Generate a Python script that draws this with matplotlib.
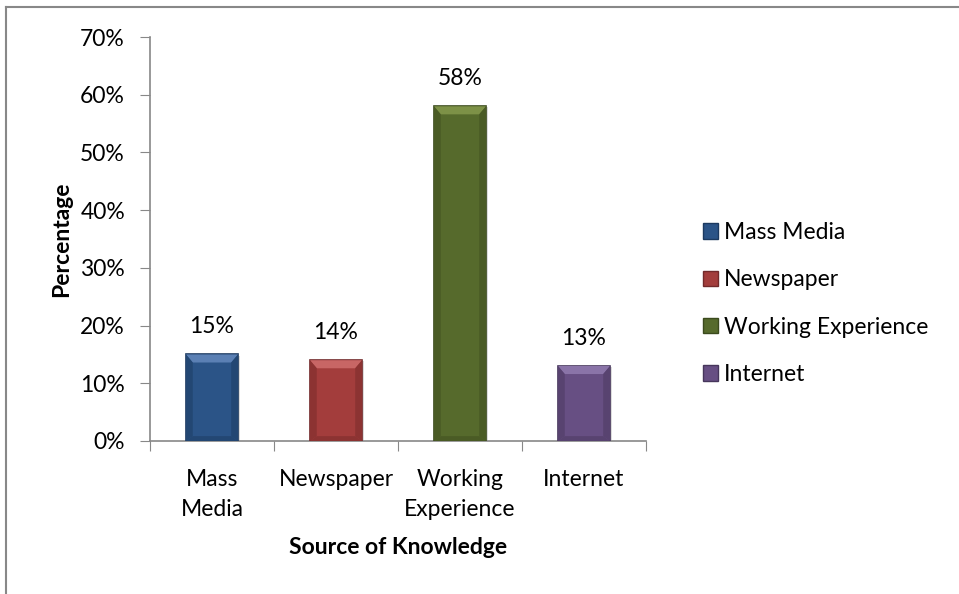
import matplotlib.pyplot as plt
from matplotlib.patches import Polygon, Rectangle
from matplotlib.lines import Line2D

categories = ["Mass\nMedia", "Newspaper", "Working\nExperience", "Internet"]
legend_names = ["Mass Media", "Newspaper", "Working Experience", "Internet"]
values = [15, 14, 58, 13]
colors = ["#2b5487", "#a33d3c", "#566a2c", "#674f83"]
edges = ["#1c3a60", "#72292a", "#3b4a1d", "#46365b"]
lights = ["#5b80b4", "#c86665", "#7d9147", "#8a74a8"]
darks = ["#234773", "#8c3332", "#4a5b25", "#584370"]

plt.rcParams['font.family'] = ['Lato', 'DejaVu Sans']
fs = 16.5

fig = plt.figure(figsize=(9.59, 5.94), dpi=100)
ax = fig.add_axes([0.1564, 0.2576, 0.5172, 0.6801])

x = list(range(len(values)))
w = 0.42
bars = ax.bar(x, values, width=w, color=colors, edgecolor=edges, linewidth=1.2, zorder=3)

# bevel look on each bar
for b, lc, dc in zip(bars, lights, darks):
    x0, y0 = b.get_x(), b.get_y()
    bw, bh = b.get_width(), b.get_height()
    x1, y1 = x0 + bw, y0 + bh
    d = 0.055
    dy = 1.4
    top = Polygon([(x0, y1), (x1, y1), (x1 - d, y1 - dy), (x0 + d, y1 - dy)],
                  closed=True, color=lc, zorder=4, lw=0)
    left = Polygon([(x0, y0), (x0, y1), (x0 + d, y1 - dy), (x0 + d, y0 + dy * 0.6)],
                   closed=True, color=dc, zorder=4, lw=0)
    right = Polygon([(x1, y0), (x1, y1), (x1 - d, y1 - dy), (x1 - d, y0 + dy * 0.6)],
                    closed=True, color=dc, zorder=4, lw=0)
    bot = Polygon([(x0, y0), (x1, y0), (x1 - d, y0 + dy * 0.6), (x0 + d, y0 + dy * 0.6)],
                  closed=True, color=dc, zorder=4, lw=0)
    for p in (top, left, right, bot):
        ax.add_patch(p)
    # soft shadow
    sh = Rectangle((x0 + 0.015, y0 - 0.2), bw, bh, color="#dcdcdc", zorder=2, lw=0)
    ax.add_patch(sh)

for xi, v in zip(x, values):
    ax.text(xi, v + 3.0, f"{v}%", ha="center", va="bottom", fontsize=fs)

ax.set_xlim(-0.5, len(values) - 0.5)
ax.set_ylim(0, 70)
ax.set_yticks(range(0, 71, 10))
ax.set_yticklabels([f"{t}%" for t in range(0, 71, 10)], fontsize=fs)
ax.set_xticks([i - 0.5 for i in range(len(values) + 1)], minor=False)
ax.set_xticklabels([])
ax.set_xticks(x, minor=True)
ax.set_xticklabels(categories, minor=True, fontsize=fs, linespacing=1.55)
ax.tick_params(axis="x", which="minor", length=0, pad=20)
ax.tick_params(axis="x", which="major", length=7, color="#888888", direction="out")
ax.tick_params(axis="y", length=7, color="#888888", pad=11)

for s in ["top", "right"]:
    ax.spines[s].set_visible(False)
ax.spines["left"].set_color("#888888")
ax.spines["bottom"].set_color("#888888")
ax.spines["left"].set_linewidth(1.2)
ax.spines["bottom"].set_linewidth(1.2)

ax.set_xlabel("Source of Knowledge", fontsize=fs, fontweight="bold", labelpad=12)
ax.set_ylabel("Percentage", fontsize=fs, fontweight="bold", labelpad=6)

handles = [Rectangle((0, 0), 1, 1, facecolor=c, edgecolor=e, lw=1) for c, e in zip(colors, edges)]
fig.legend(handles, legend_names, loc="center left", bbox_to_anchor=(0.712, 0.489),
           frameon=False, fontsize=fs, handlelength=0.65, handleheight=0.65,
           handletextpad=0.25, labelspacing=1.15)

# chart area border (top and left visible)
fig.add_artist(Line2D([0.006, 1.0], [0.988, 0.988], color="#888888", lw=1.5, transform=fig.transFigure))
fig.add_artist(Line2D([0.006, 0.006], [0.0, 0.988], color="#888888", lw=1.5, transform=fig.transFigure))

fig.savefig("out.png", dpi=100)
